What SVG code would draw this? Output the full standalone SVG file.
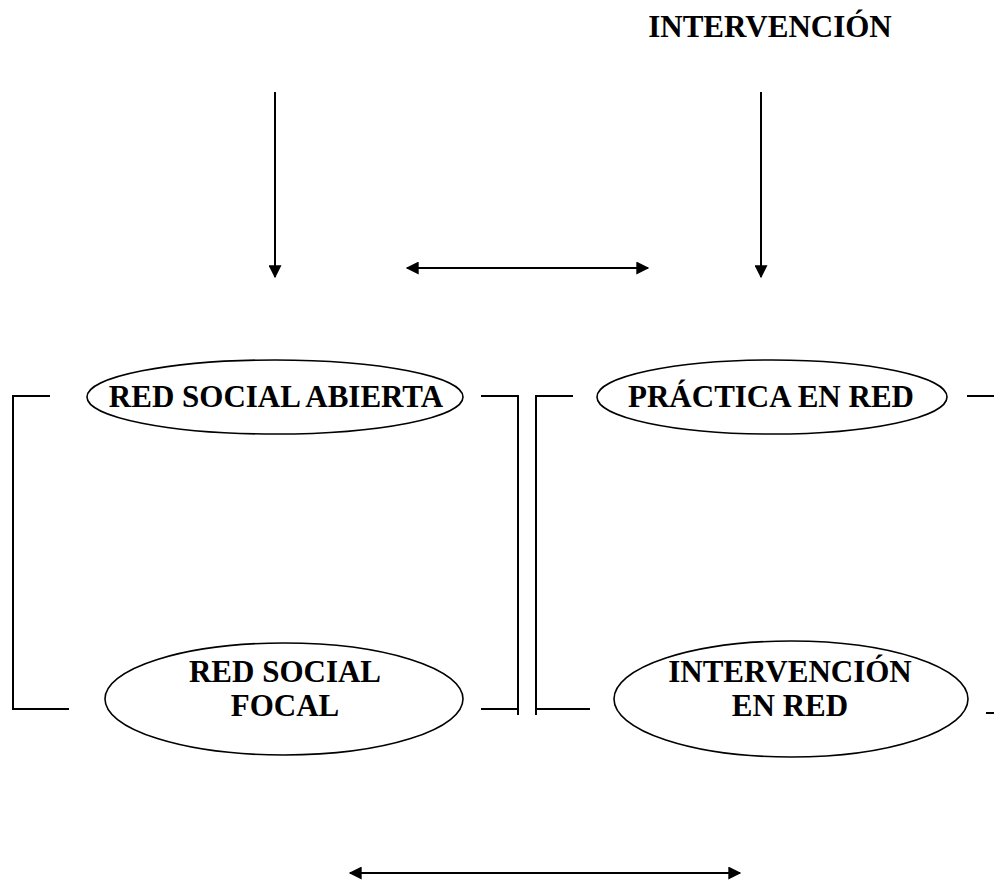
<svg xmlns="http://www.w3.org/2000/svg" width="994" height="882" viewBox="0 0 994 882">
  <style>
    .lbl { font-family: "Liberation Serif", "Times New Roman", serif; font-weight: bold; font-size: 31px; fill: #000; text-anchor: middle; }
    .oval { fill: #fff; stroke: #000; stroke-width: 1.6; }
    .ln { fill: none; stroke: #000; stroke-width: 2; }
    .arr { fill: none; stroke: #000; stroke-width: 2; }
  </style>
  <defs>
    <marker id="head" viewBox="0 0 10 10" refX="9" refY="5" markerWidth="15" markerHeight="13" markerUnits="userSpaceOnUse" orient="auto-start-reverse">
      <path d="M0,0 L10,5 L0,10 z" fill="#000"/>
    </marker>
  </defs>
  <rect width="994" height="882" fill="#fff"/>

  <g id="title">
    <text class="lbl" x="770" y="37">INTERVENCIÓN</text>
  </g>

  <g id="connectors">
    <line class="arr" x1="275" y1="92" x2="275" y2="277" marker-end="url(#head)"/>
    <line class="arr" x1="761" y1="92" x2="761" y2="277" marker-end="url(#head)"/>
    <line class="arr" x1="407" y1="268" x2="648" y2="268" marker-start="url(#head)" marker-end="url(#head)"/>
    <line class="arr" x1="350" y1="873" x2="740" y2="873" marker-start="url(#head)" marker-end="url(#head)"/>
    <!-- brackets -->
    <polyline class="ln" points="50,396 13,396 13,709 69,709"/>
    <polyline class="ln" points="481,396 518,396 518,715"/>
    <line class="ln" x1="481" y1="709" x2="518" y2="709"/>
    <polyline class="ln" points="573,396 536,396 536,715"/>
    <line class="ln" x1="536" y1="709" x2="590" y2="709"/>
    <line class="ln" x1="967" y1="396" x2="994" y2="396"/>
    <line class="ln" x1="986" y1="713" x2="994" y2="713"/>
  </g>

  <g id="red-social-abierta">
    <ellipse class="oval" cx="275" cy="397" rx="188" ry="37"/>
    <text class="lbl" x="276" y="407">RED SOCIAL ABIERTA</text>
  </g>

  <g id="practica-en-red">
    <ellipse class="oval" cx="772" cy="397" rx="175" ry="37"/>
    <text class="lbl" x="771" y="407">PRÁCTICA EN RED</text>
  </g>

  <g id="red-social-focal">
    <ellipse class="oval" cx="284" cy="699" rx="179" ry="56"/>
    <text class="lbl" x="285" y="682">RED SOCIAL</text>
    <text class="lbl" x="285" y="716">FOCAL</text>
  </g>

  <g id="intervencion-en-red">
    <ellipse class="oval" cx="791" cy="699" rx="177" ry="58"/>
    <text class="lbl" x="790" y="682">INTERVENCIÓN</text>
    <text class="lbl" x="790" y="716">EN RED</text>
  </g>
</svg>
